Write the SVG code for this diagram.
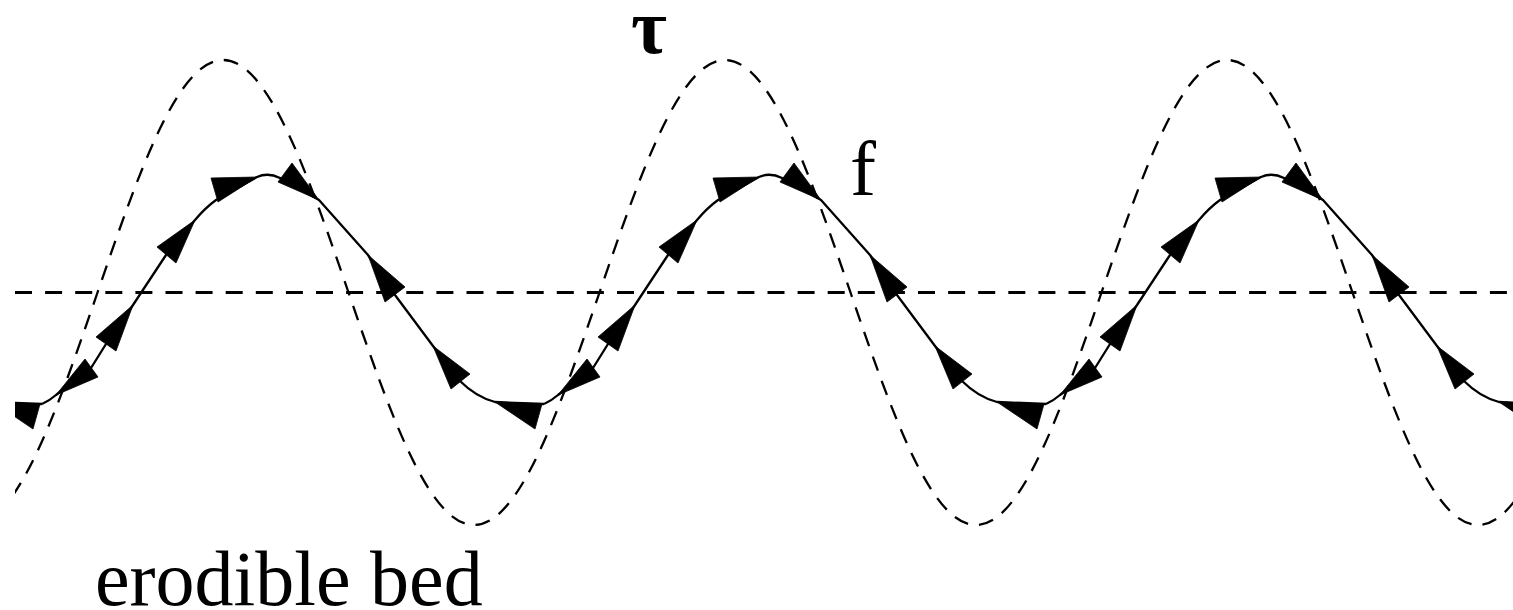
<svg xmlns="http://www.w3.org/2000/svg" width="1513" height="610" viewBox="0 0 1513 610">
  <style>
    .tau { fill: none; stroke: #000; stroke-width: 2.3; stroke-dasharray: 15 11; }
    .axis { fill: none; stroke: #000; stroke-width: 3; stroke-dasharray: 17 13.1; }
    .f { fill: none; stroke: #000; stroke-width: 2.3; stroke-linejoin: round; }
    .head { fill: #000; stroke: #000; stroke-width: 0.8; stroke-linejoin: miter; }
    .lbl { font-family: "Liberation Serif", "Times New Roman", serif; font-size: 78px; fill: #000; }
  </style>
  <defs>
    <clipPath id="clip">
      <rect x="15" y="0" width="1498" height="610"/>
    </clipPath>
    <g id="period">
      <path class="f" d="M 44,404 Q 51,401 58,395 L 93,368 L 108,344 L 135,305 L 168,255 L 197,220 Q 207,208 218,200 L 259,177 Q 270,172 282,178 L 321,200 L 370,255 L 397,295 L 435,346 L 462,381 Q 478,397 497,402 L 546,404"/>
      <polygon class="head" points="58,395 87,359 100,377"/>
      <polygon class="head" points="135,305 98,337 118,351"/>
      <polygon class="head" points="197,220 159,247 178,263"/>
      <polygon class="head" points="259,177 213,178 220,202"/>
      <polygon class="head" points="321,200 294,163 280,182"/>
      <polygon class="head" points="370,255 407,287 387,302"/>
      <polygon class="head" points="435,346 472,374 453,389"/>
      <polygon class="head" points="497,402 544,404 537,429"/>
    </g>
  </defs>

  <g id="baseline">
    <line class="axis" x1="15" y1="292.5" x2="1513" y2="292.5"/>
  </g>

  <g id="tau-curve" clip-path="url(#clip)">
    <path class="tau" d="M -28,525
      c 45.42,0 84.57,-113.4 125.5,-232.5 c 40.93,-119.1 80.08,-232.5 125.5,-232.5 c 45.42,0 84.57,113.4 125.5,232.5 c 40.93,119.1 80.08,232.5 125.5,232.5
      c 45.42,0 84.57,-113.4 125.5,-232.5 c 40.93,-119.1 80.08,-232.5 125.5,-232.5 c 45.42,0 84.57,113.4 125.5,232.5 c 40.93,119.1 80.08,232.5 125.5,232.5
      c 45.42,0 84.57,-113.4 125.5,-232.5 c 40.93,-119.1 80.08,-232.5 125.5,-232.5 c 45.42,0 84.57,113.4 125.5,232.5 c 40.93,119.1 80.08,232.5 125.5,232.5
      c 45.42,0 84.57,-113.4 125.5,-232.5 c 40.93,-119.1 80.08,-232.5 125.5,-232.5"/>
  </g>

  <g id="f-curve" clip-path="url(#clip)">
    <use href="#period" transform="translate(-504,0)"/>
    <use href="#period" transform="translate(-2,0)"/>
    <use href="#period" transform="translate(500,0)"/>
    <use href="#period" transform="translate(1002,0)"/>
  </g>

  <g id="labels">
    <text class="lbl" x="631" y="53" font-weight="bold">τ</text>
    <text class="lbl" x="850" y="195">f</text>
    <text class="lbl" x="95" y="605">erodible bed</text>
  </g>
</svg>
